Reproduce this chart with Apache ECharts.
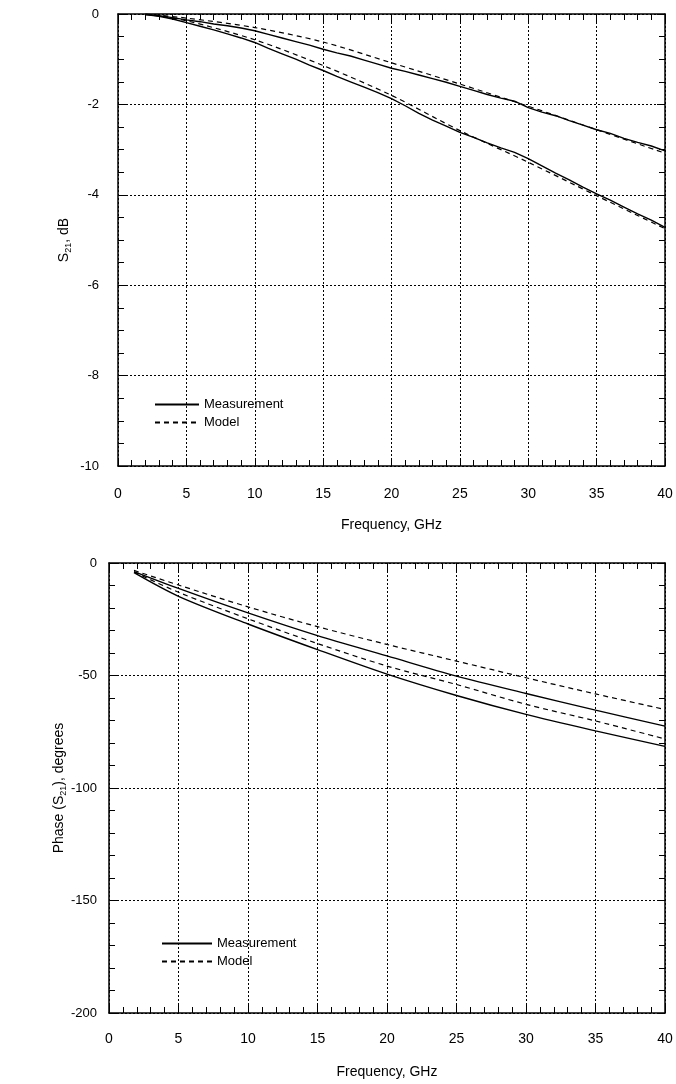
<!DOCTYPE html>
<html>
<head>
<meta charset="utf-8">
<script src="https://cdn.jsdelivr.net/npm/echarts@6/dist/echarts.min.js"></script>
<style>
html,body{margin:0;padding:0;background:#fff;}
#chart{width:676px;height:1084px;}
</style>
</head>
<body>
<div id="chart"></div>
<script>
// ---- Top chart: S21 magnitude (dB) ----
const freqMeas = [2,3,4,5,6,7,8,9,10,11,12,13,14,15,16,17,18,19,20,21,22,23,24,25,26,27,28,29,30,31,32,33,34,35,36,37,38,39,40];
const s21MeasUpper = [-0.01,-0.04,-0.08,-0.13,-0.17,-0.22,-0.26,-0.31,-0.37,-0.45,-0.53,-0.61,-0.69,-0.78,-0.86,-0.93,-1.02,-1.11,-1.20,-1.27,-1.35,-1.43,-1.51,-1.60,-1.69,-1.78,-1.86,-1.93,-2.07,-2.17,-2.25,-2.36,-2.46,-2.56,-2.64,-2.75,-2.84,-2.92,-3.03];
const s21MeasLower = [-0.01,-0.05,-0.11,-0.19,-0.27,-0.35,-0.44,-0.53,-0.63,-0.76,-0.88,-1.00,-1.13,-1.25,-1.38,-1.50,-1.62,-1.74,-1.87,-2.03,-2.20,-2.35,-2.48,-2.62,-2.73,-2.85,-2.96,-3.06,-3.20,-3.36,-3.52,-3.67,-3.83,-3.98,-4.12,-4.27,-4.42,-4.56,-4.72];
const freqModel = [2,5,10,15,20,25,30,35,40];
const s21ModelUpper = [0,-0.09,-0.30,-0.62,-1.08,-1.55,-2.04,-2.56,-3.08];
const s21ModelLower = [0,-0.15,-0.57,-1.14,-1.80,-2.58,-3.28,-4.02,-4.75];

// ---- Bottom chart: phase (degrees) ----
const freqPhase = [1.8,5,10,15,20,25,30,35,40];
const phaseModelUpper = [-3.3,-9.8,-19.5,-28.3,-36.2,-43.6,-51.0,-58.2,-65.1];
const phaseMeasUpper = [-3.8,-11.3,-22.2,-32.3,-41.3,-50.3,-58.0,-65.4,-72.5];
const phaseModelLower = [-4.0,-13.0,-24.8,-35.8,-45.8,-54.0,-62.8,-70.2,-78.2];
const phaseMeasLower = [-4.3,-14.8,-27.1,-38.5,-49.4,-58.9,-67.3,-74.6,-81.5];

const seriesNames = ['Measurement','Model'];
const xTitle = 'Frequency, GHz';

const FONT = '"Liberation Sans", Arial, Helvetica, sans-serif';
const zip = (xs, ys) => xs.map((x, i) => [x, ys[i]]);

const solid = {color:'#000', width:1.4, type:'solid'};
const dashed = {color:'#000', width:1.2, type:[5,4]};

function xAxes(gridIndex, labelMargin, nameGap) {
  const base = {
    gridIndex, type:'value', min:0, max:40, interval:5,
    axisLine:{show:true, onZero:false, lineStyle:{color:'#000', width:1.5}},
    axisTick:{show:true, inside:true, length:8, lineStyle:{color:'#000', width:1}},
    minorTick:{show:true, splitNumber:5, length:6, lineStyle:{color:'#000', width:1}}
  };
  return [
    Object.assign({}, base, {
      position:'bottom',
      name:xTitle, nameLocation:'middle', nameGap:nameGap, nameMoveOverlap:false,
      nameTextStyle:{fontFamily:FONT, fontSize:14, color:'#000'},
      axisLabel:{show:true, margin:labelMargin, fontFamily:FONT, fontSize:14, color:'#000'},
      splitLine:{show:true, lineStyle:{color:'#000', type:[2,2], width:1}}
    }),
    Object.assign({}, base, {
      position:'top', axisLabel:{show:false}, splitLine:{show:false}
    })
  ];
}

function yAxes(gridIndex, min, interval, minorSplit, name, nameGap, labelMargin) {
  const base = {
    gridIndex, type:'value', min:min, max:0, interval:interval,
    axisLine:{show:true, onZero:false, lineStyle:{color:'#000', width:1.5}},
    axisTick:{show:true, inside:true, length:8, lineStyle:{color:'#000', width:1}},
    minorTick:{show:true, splitNumber:minorSplit, length:6, lineStyle:{color:'#000', width:1}}
  };
  return [
    Object.assign({}, base, {
      position:'left',
      name:name, nameLocation:'middle', nameGap:nameGap, nameMoveOverlap:false,
      nameTextStyle:{fontFamily:FONT, fontSize:14, color:'#000',
        rich:{sub:{fontFamily:FONT, fontSize:9, color:'#000', padding:[8,0,0,0]}}},
      axisLabel:{show:true, margin:labelMargin, fontFamily:FONT, fontSize:13, color:'#000'},
      splitLine:{show:true, lineStyle:{color:'#000', type:[2,2], width:1}}
    }),
    Object.assign({}, base, {
      position:'right', axisLabel:{show:false}, splitLine:{show:false}
    })
  ];
}

function line(name, xi, yi, data, style, smooth) {
  return {
    type:'line', name:name, xAxisIndex:xi, yAxisIndex:yi,
    data:data, showSymbol:false, symbol:'none', smooth:smooth,
    lineStyle:style, itemStyle:{color:'#000'}, animation:false, z:3
  };
}

const legendText = {fontFamily:FONT, fontSize:13, color:'#000'};
const legendItemStyle = {opacity:0, color:'transparent', borderColor:'transparent', borderWidth:0};

const chart = echarts.init(document.getElementById('chart'), null, {renderer:'canvas'});
chart.setOption({
  backgroundColor:'#fff',
  animation:false,
  grid:[
    {left:118, right:11, top:14, height:452},
    {left:109, right:11, top:563, height:450}
  ],
  legend:[
    {data:seriesNames, orient:'vertical', left:149, top:393,
     itemWidth:44, itemHeight:10, itemGap:5, textStyle:legendText, selectedMode:false,
     itemStyle:legendItemStyle},
    {data:seriesNames, orient:'vertical', left:156, top:932,
     itemWidth:50, itemHeight:10, itemGap:5, textStyle:legendText, selectedMode:false,
     itemStyle:legendItemStyle}
  ],
  xAxis:[].concat(xAxes(0, 21, 52), xAxes(1, 19, 52)),
  yAxis:[].concat(
    yAxes(0, -10, 2, 4, 'S{sub|21}, dB', 45, 19),
    yAxes(1, -200, 50, 5, 'Phase (S{sub|21}), degrees', 41, 12)
  ),
  series:[
    line('Measurement', 0, 0, zip(freqMeas, s21MeasUpper), solid, false),
    line('Measurement', 0, 0, zip(freqMeas, s21MeasLower), solid, false),
    line('Model', 0, 0, zip(freqModel, s21ModelUpper), dashed, 0.3),
    line('Model', 0, 0, zip(freqModel, s21ModelLower), dashed, 0.3),
    line('Measurement', 2, 2, zip(freqPhase, phaseMeasUpper), solid, 0.3),
    line('Measurement', 2, 2, zip(freqPhase, phaseMeasLower), solid, 0.3),
    line('Model', 2, 2, zip(freqPhase, phaseModelUpper), dashed, 0.3),
    line('Model', 2, 2, zip(freqPhase, phaseModelLower), dashed, 0.3)
  ]
});
</script>
</body>
</html>
